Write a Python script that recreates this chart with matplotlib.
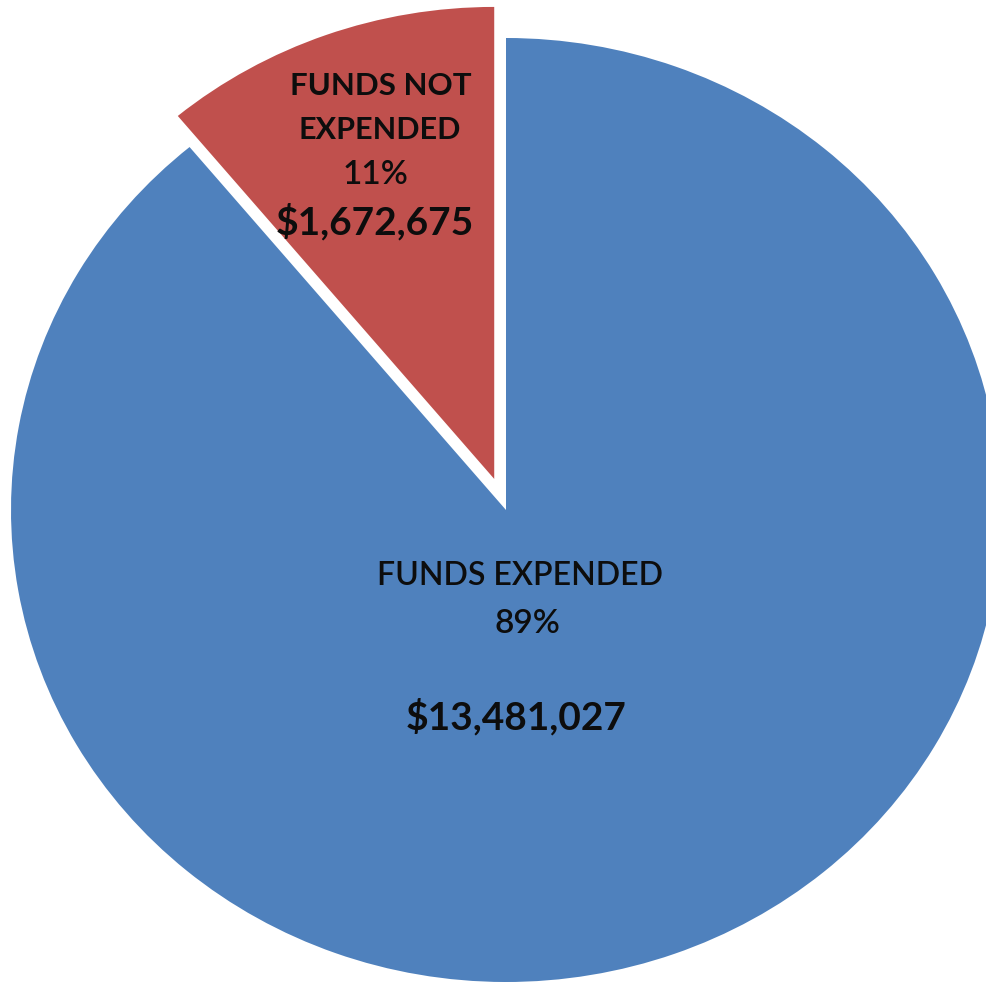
import matplotlib
matplotlib.use("Agg")
import matplotlib.pyplot as plt

# Fund usage breakdown
categories = ["FUNDS NOT EXPENDED", "FUNDS EXPENDED"]
amounts = [1672675, 13481027]
percent_labels = ["11%", "89%"]
amount_labels = ["$1,672,675", "$13,481,027"]
colors = ["#C0504D", "#4F81BD"]
explode = [0.07, 0.0]

W, H = 987, 986
fig = plt.figure(figsize=(W / 100, H / 100), dpi=100)
ax = fig.add_axes([0, 0, 1, 1])

# Slightly wider than tall, the way the chart area was stretched
cx_px, cy_px = 506, 510
rx_px, ry_px = 495, 472

ax.pie(amounts, colors=colors, explode=explode, startangle=90,
       counterclock=True, radius=1.0, wedgeprops=dict(linewidth=0))
ax.set_aspect("auto")
ax.set_xlim(-cx_px / rx_px, (W - cx_px) / rx_px)
ax.set_ylim(-(H - cy_px) / ry_px, cy_px / ry_px)
ax.axis("off")

font = "Lato"

def put(x_px, y_px, s, size, weight):
    fig.text(x_px / W, 1 - y_px / H, s, ha="center", va="center",
             fontsize=size, fontweight=weight, family=font, color="#0d0d0d")

# Label inside the exploded slice
put(381, 86, "FUNDS NOT", 22.5, "bold")
put(380, 130, "EXPENDED", 22, "bold")
put(376, 175, percent_labels[0], 24, "semibold")
put(375, 222, amount_labels[0], 28, "bold")

# Label inside the large slice
put(520, 576, categories[1], 23, "semibold")
put(527, 624, percent_labels[1], 24, "semibold")
put(516, 717, amount_labels[1], 28, "bold")

fig.savefig("out.png", dpi=100, facecolor="white")
